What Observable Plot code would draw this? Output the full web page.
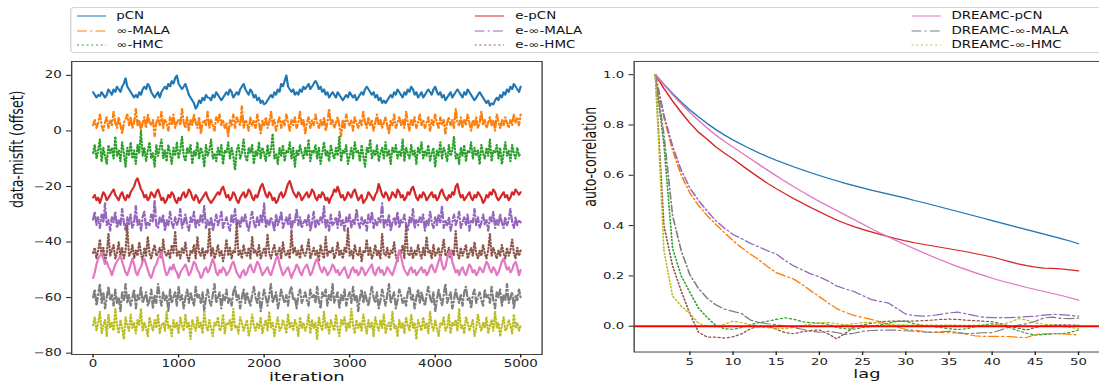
<!DOCTYPE html>
<html>
<head>
<meta charset="utf-8">
<script src="https://cdn.jsdelivr.net/npm/d3@7"></script>
<script src="https://cdn.jsdelivr.net/npm/@observablehq/plot@0.6"></script>
<style>
  html, body { margin: 0; padding: 0; background: #fff; overflow: hidden; width: 1099px; height: 387px; }
  #wrap { position: absolute; left: 0; top: 0; width: 785px; height: 387px; transform: scaleX(1.4); transform-origin: 0 0; font-family: "DejaVu Sans", sans-serif; }
  #legend { position: absolute; left: 50px; top: 7px; width: 760px; height: 46px; border: 1px solid #d4d4d4; border-radius: 3px; box-sizing: border-box; }
  .lg-text { position: absolute; font-size: 9.6px; line-height: 1; color: #111; white-space: nowrap; transform: translateY(-50%); }
  .lg-line { position: absolute; }
  #left { position: absolute; left: 0; top: 55px; }
  #right { position: absolute; left: 400px; top: 55px; }
</style>
</head>
<body>
<div id="wrap">
  <div id="legend"></div>
  <div id="left"></div>
  <div id="right"></div>
</div>
<script>
// ---------------- data ----------------
const seriesNames = ["pCN", "∞-MALA", "∞-HMC", "e-pCN", "e-∞-MALA", "e-∞-HMC", "DREAMC-pCN", "DREAMC-∞-MALA", "DREAMC-∞-HMC"];
const seriesColors = ["#1f77b4", "#ff7f0e", "#2ca02c", "#d62728", "#9467bd", "#8c564b", "#e377c2", "#7f7f7f", "#bcbd22"];
const seriesStyle = ["solid", "dashdot", "dotted", "solid", "dashdot", "dotted", "solid", "dashdot", "dotted"];

const iterMax = 5000;
const iterTicks = [0, 1000, 2000, 3000, 4000, 5000];
const misfitTicks = [-80, -60, -40, -20, 0, 20];
const lags = d3.range(1, 51);
const lagTicks = [5, 10, 15, 20, 25, 30, 35, 40, 45, 50];
const acfTicks = [0, 0.2, 0.4, 0.6, 0.8, 1.0];

// trace values (offset data-misfit), sampled every 20 iterations
const trace_pCN = [14,13,12,13,12.5,14,13,12,13,15,14,13,15,14,16,15,14,16,17,19,16,15,14,13,12,13,12,14,13,15,16,15,17,16,14,13,12,13,14,12,14,15,16,15,17,16,18,17,19,20,17,16,15,16,17,15,13,12,11,10,8,9,11,10,12,11,13,12,12,11,13,12,14,13,12,11,12,13,14,13,15,14,12,13,14,13,15,16,17,15,14,13,15,14,12,13,11,12,10,11,9.5,10,11,12,13,12,14,13,15,14,17,16,18,20,16,15,14,15,13,14,13,15,14,16,15,16,17,15,16,17,18,17,15,16,14,15,13,14,12,13,14,13,12,14,13,12,11,12,13,12,14,13,12,13,11,12,13,14,13,15,16,15,14,13,14,12,13,11,12,10,11,10,11,12,13,12,14,13,15,14,13,12,14,13,15,14,16,15,13,14,12,13,14,12,13,14,15,14,13,15,16,14,13,14,12,13,11,12,13,14,12,13,14,15,14,13,12,14,13,15,14,13,12,11,12,13,14,13,12,11,10,11,9,10,9.5,11,12,11,13,12,14,13,15,14,16,15,17,16,15,14,16];
const trace_infMALA = [2,4,1,3,6,2,0,3,5,1,4,2,7,3,1,5,2,-1,3,4,6,2,5,1,3,8,2,4,0,3,5,1,6,3,2,4,-2,3,5,2,7,1,4,3,0,5,2,6,1,3,4,2,8,3,1,5,0,4,2,6,3,1,5,-1,3,4,2,7,1,4,2,0,5,3,6,2,4,1,3,-2,4,2,6,1,5,3,2,9,1,4,3,0,5,2,4,1,6,3,-1,4,2,5,1,3,7,2,4,0,3,5,1,4,2,6,3,0,4,2,5,1,3,7,2,4,-1,3,5,1,4,2,6,3,1,4,2,5,0,3,8,2,4,1,3,5,2,-2,4,1,6,3,2,4,0,5,3,1,4,2,7,3,1,5,2,4,0,3,6,2,4,1,3,5,2,-1,4,2,6,1,3,5,2,4,1,7,3,0,4,2,5,1,3,6,2,4,1,3,5,0,4,2,6,3,1,5,2,4,-1,3,5,2,4,1,8,3,2,5,1,4,2,6,3,0,4,2,5,1,3,7,2,4,1,3,5,2,4,0,6,3,1,4,2,5,3,1,4,2,6,3,5,2,6];
const trace_infHMC = [-8,-5,-10,-7,-3,-11,-6,-9,-12,-5,-8,-6,-10,-2,-9,-7,-11,-4,-8,-13,-6,-9,-4,-10,-7,-12,-5,-8,0,-9,-6,-11,-7,-4,-10,-8,-13,-5,-9,-6,-3,-10,-7,-11,-5,-8,-12,-6,-9,-4,-10,-7,-2,-9,-11,-6,-8,-5,-12,-7,-9,-4,-10,-6,-8,-13,-5,-9,-7,-3,-10,-8,-11,-6,-9,-5,-12,-7,-8,-4,-10,-6,-9,-14,-7,-5,-10,-8,-3,-9,-11,-6,-8,-5,-12,-7,-9,-4,-10,-6,-8,-11,-5,-9,-7,-1,-10,-8,-12,-6,-9,-5,-11,-7,-8,-4,-10,-6,-13,-7,-9,-5,-8,-10,-6,-9,-3,-11,-7,-8,-5,-10,-6,-12,-8,-4,-9,-7,-11,-5,-8,-10,-6,-9,-2,-11,-7,-8,-5,-12,-9,-6,-10,-4,-8,-7,-11,-5,-9,-13,-6,-8,-3,-10,-7,-9,-5,-11,-8,-6,-10,-4,-9,-7,-12,-6,-8,-5,-10,-7,-9,-3,-11,-6,-8,-10,-5,-9,-7,-12,-6,-8,-4,-10,-7,-9,-5,-11,-8,-6,-13,-7,-9,-4,-10,-6,-8,-11,-5,-9,-7,-2,-10,-8,-12,-6,-9,-5,-11,-7,-8,-4,-10,-6,-9,-7,-12,-5,-8,-10,-6,-9,-3,-11,-7,-8,-5,-10,-6,-12,-8,-4,-9,-7,-11,-5,-8,-10,-6,-9,-8];
const trace_epCN = [-24,-23,-25,-24,-26,-24,-22,-23,-25,-24,-23,-22,-21,-23,-24,-25,-23,-22,-24,-25,-23,-24,-22,-21,-20,-18,-17,-19,-21,-22,-24,-23,-25,-24,-22,-23,-24,-22,-21,-23,-25,-24,-26,-25,-23,-24,-22,-23,-25,-26,-24,-25,-23,-22,-24,-23,-21,-22,-24,-25,-23,-24,-26,-25,-24,-23,-22,-24,-25,-26,-25,-24,-23,-22,-23,-21,-20,-22,-24,-23,-25,-24,-22,-23,-25,-26,-24,-23,-22,-24,-23,-21,-22,-24,-25,-23,-24,-22,-20,-19,-21,-23,-24,-22,-23,-25,-24,-26,-25,-23,-22,-24,-23,-21,-19,-18,-20,-22,-23,-24,-22,-23,-25,-24,-23,-22,-24,-23,-21,-22,-24,-25,-23,-24,-22,-23,-25,-24,-26,-24,-23,-21,-22,-20,-22,-24,-23,-25,-24,-22,-23,-24,-22,-21,-23,-25,-24,-23,-26,-25,-24,-22,-23,-24,-25,-23,-22,-19,-21,-23,-24,-22,-23,-25,-24,-22,-23,-24,-21,-22,-24,-23,-25,-24,-22,-23,-21,-20,-22,-24,-25,-23,-24,-22,-23,-25,-24,-23,-22,-24,-23,-25,-24,-22,-21,-23,-24,-25,-23,-24,-22,-23,-20,-19,-22,-24,-23,-25,-24,-23,-22,-24,-25,-23,-24,-22,-23,-24,-26,-25,-23,-24,-22,-23,-21,-22,-24,-25,-24,-23,-22,-24,-23,-25,-24,-22,-23,-21,-22,-23,-22];
const trace_einfMALA = [-32,-29,-34,-31,-35,-30,-33,-26,-34,-32,-36,-31,-33,-29,-35,-32,-34,-28,-33,-36,-31,-34,-30,-35,-33,-27,-34,-32,-36,-31,-29,-35,-33,-34,-30,-33,-25,-34,-35,-31,-33,-30,-36,-32,-34,-29,-33,-35,-31,-34,-32,-28,-35,-33,-30,-34,-36,-31,-33,-29,-35,-32,-34,-30,-33,-27,-35,-32,-34,-31,-36,-33,-30,-34,-32,-29,-35,-33,-31,-34,-36,-30,-33,-28,-34,-32,-35,-31,-33,-30,-34,-36,-32,-29,-33,-35,-31,-34,-30,-33,-26,-35,-32,-34,-31,-33,-36,-30,-34,-32,-29,-35,-33,-31,-34,-30,-36,-32,-33,-28,-34,-31,-35,-33,-32,-34,-30,-36,-33,-29,-35,-32,-34,-31,-33,-27,-35,-32,-36,-30,-34,-33,-31,-35,-29,-34,-32,-36,-31,-33,-30,-35,-32,-34,-28,-33,-35,-31,-34,-32,-36,-30,-33,-29,-35,-32,-34,-31,-33,-26,-35,-32,-34,-30,-36,-33,-31,-34,-29,-35,-32,-33,-30,-34,-36,-31,-33,-28,-35,-32,-34,-31,-33,-30,-36,-32,-34,-29,-33,-35,-31,-34,-30,-33,-27,-35,-32,-34,-31,-36,-33,-30,-34,-32,-29,-35,-33,-31,-34,-30,-36,-32,-33,-28,-34,-31,-35,-33,-30,-34,-32,-36,-31,-33,-29,-35,-32,-34,-30,-33,-35,-31,-34,-32,-28,-33,-35,-31,-34,-32,-33];
const trace_einfHMC = [-44,-42,-46,-43,-39,-45,-42,-47,-44,-37,-45,-43,-41,-46,-44,-40,-45,-42,-46,-43,-34,-45,-44,-41,-46,-43,-45,-40,-44,-47,-42,-45,-38,-44,-46,-43,-41,-45,-44,-42,-46,-39,-44,-45,-43,-46,-41,-44,-36,-45,-43,-46,-42,-44,-40,-45,-47,-43,-44,-41,-46,-38,-44,-45,-42,-46,-43,-44,-35,-45,-42,-46,-44,-41,-45,-43,-47,-44,-39,-45,-42,-46,-43,-44,-33,-45,-43,-46,-41,-44,-45,-42,-46,-38,-44,-43,-45,-41,-46,-44,-42,-45,-37,-44,-46,-43,-41,-45,-44,-42,-46,-40,-44,-45,-43,-46,-36,-44,-42,-45,-43,-46,-41,-44,-45,-43,-39,-46,-44,-42,-45,-43,-47,-41,-44,-46,-38,-45,-43,-44,-42,-46,-44,-40,-45,-43,-46,-42,-44,-35,-45,-43,-46,-41,-44,-45,-42,-47,-43,-44,-39,-45,-42,-46,-44,-41,-45,-43,-46,-37,-44,-45,-42,-46,-43,-44,-40,-45,-47,-43,-44,-41,-46,-34,-44,-45,-42,-46,-43,-45,-41,-44,-46,-42,-45,-38,-44,-43,-46,-41,-45,-44,-42,-46,-43,-39,-45,-44,-42,-46,-43,-45,-36,-44,-46,-42,-45,-43,-41,-46,-44,-42,-45,-40,-44,-46,-43,-45,-41,-44,-46,-43,-37,-45,-42,-44,-46,-43,-45,-41,-44,-46,-42,-45,-43,-39,-44,-46,-42,-45,-43];
const trace_DpCN = [-53,-51,-48,-46,-45,-44,-46,-48,-47,-49,-50,-52,-50,-48,-47,-46,-45,-47,-49,-51,-52,-50,-48,-46,-48,-51,-52,-50,-49,-47,-46,-48,-50,-52,-53,-51,-49,-48,-46,-45,-44,-47,-50,-52,-51,-49,-50,-48,-50,-51,-53,-51,-50,-49,-48,-50,-52,-51,-49,-47,-48,-50,-51,-53,-52,-50,-49,-51,-50,-48,-46,-48,-51,-52,-50,-51,-49,-50,-52,-51,-50,-48,-47,-49,-51,-52,-53,-51,-50,-52,-51,-49,-48,-50,-51,-49,-47,-48,-50,-52,-51,-50,-49,-51,-52,-50,-48,-46,-45,-48,-50,-52,-51,-50,-49,-51,-53,-51,-50,-48,-49,-51,-52,-50,-49,-48,-50,-52,-51,-49,-47,-46,-48,-50,-51,-49,-50,-52,-51,-50,-48,-49,-51,-50,-52,-51,-50,-49,-51,-53,-52,-50,-49,-51,-50,-52,-51,-49,-50,-52,-51,-50,-49,-48,-51,-52,-50,-49,-51,-50,-52,-51,-49,-50,-51,-52,-50,-48,-46,-43,-45,-48,-50,-51,-52,-50,-49,-51,-50,-52,-51,-50,-49,-51,-50,-52,-51,-49,-48,-50,-51,-49,-47,-45,-48,-50,-49,-46,-44,-43,-47,-49,-51,-50,-52,-50,-49,-51,-52,-50,-48,-49,-51,-50,-52,-51,-49,-50,-51,-49,-47,-48,-50,-51,-49,-50,-52,-51,-49,-47,-46,-48,-50,-49,-51,-50,-48,-47,-49,-52,-50];
const trace_DinfMALA = [-60,-57,-63,-59,-55,-62,-58,-64,-60,-56,-61,-59,-63,-57,-62,-60,-65,-58,-61,-55,-62,-59,-63,-60,-57,-64,-59,-61,-56,-62,-60,-58,-63,-61,-57,-64,-59,-62,-55,-60,-63,-58,-61,-59,-65,-57,-62,-60,-58,-63,-56,-61,-59,-64,-60,-57,-62,-58,-61,-63,-56,-60,-59,-62,-58,-65,-60,-57,-61,-63,-59,-55,-62,-60,-58,-64,-59,-61,-57,-62,-60,-63,-58,-56,-61,-59,-64,-60,-57,-62,-58,-61,-63,-59,-56,-60,-62,-58,-65,-61,-57,-60,-63,-59,-55,-62,-60,-58,-64,-61,-57,-60,-62,-59,-63,-58,-56,-61,-60,-64,-59,-57,-62,-60,-58,-61,-63,-57,-60,-59,-62,-56,-61,-64,-58,-60,-57,-63,-59,-61,-55,-62,-60,-58,-64,-59,-61,-57,-63,-60,-58,-62,-56,-61,-59,-65,-60,-57,-62,-58,-61,-63,-59,-56,-60,-62,-58,-64,-61,-57,-60,-63,-59,-55,-62,-60,-58,-64,-61,-57,-59,-62,-60,-63,-58,-56,-61,-59,-64,-60,-57,-62,-58,-61,-63,-59,-56,-60,-62,-58,-65,-61,-57,-60,-63,-59,-55,-62,-60,-58,-64,-61,-57,-60,-62,-59,-63,-58,-56,-61,-60,-64,-59,-57,-62,-60,-58,-61,-63,-57,-60,-59,-62,-56,-61,-64,-58,-60,-57,-63,-59,-61,-55,-62,-60,-58,-64,-59,-61,-57,-60];
const trace_DinfHMC = [-70,-67,-72,-69,-65,-73,-70,-68,-74,-66,-71,-69,-72,-64,-70,-73,-68,-71,-75,-67,-70,-72,-66,-71,-69,-73,-68,-70,-64,-72,-69,-71,-74,-67,-70,-72,-68,-71,-66,-73,-70,-69,-72,-65,-71,-70,-74,-68,-71,-69,-73,-67,-70,-72,-66,-71,-69,-75,-68,-70,-72,-67,-71,-69,-73,-65,-70,-72,-68,-71,-74,-69,-70,-67,-72,-71,-66,-73,-69,-70,-68,-72,-64,-71,-70,-73,-67,-69,-72,-70,-68,-74,-71,-66,-70,-72,-69,-71,-67,-73,-70,-68,-72,-65,-71,-69,-74,-70,-67,-72,-71,-68,-70,-73,-66,-71,-69,-72,-68,-70,-74,-67,-71,-69,-72,-70,-66,-73,-68,-71,-69,-75,-67,-70,-72,-65,-71,-69,-73,-68,-70,-72,-66,-71,-74,-68,-70,-67,-72,-69,-71,-64,-70,-73,-68,-71,-69,-72,-66,-70,-73,-68,-71,-69,-74,-67,-70,-72,-68,-71,-66,-73,-70,-69,-72,-65,-71,-70,-74,-68,-71,-69,-73,-67,-70,-72,-66,-71,-69,-75,-68,-70,-72,-67,-71,-69,-73,-65,-70,-72,-68,-71,-74,-69,-70,-67,-72,-71,-66,-73,-69,-70,-68,-72,-64,-71,-70,-73,-67,-69,-72,-70,-68,-74,-71,-66,-70,-72,-69,-71,-67,-73,-70,-68,-72,-65,-71,-69,-74,-70,-67,-72,-71,-68,-70,-73,-66,-71,-69,-72,-70];

// autocorrelation values at lags 1..50
const acf_pCN = [1.000,0.962,0.925,0.891,0.860,0.832,0.806,0.782,0.760,0.740,0.722,0.705,0.689,0.674,0.660,0.647,0.634,0.622,0.610,0.599,0.588,0.578,0.568,0.559,0.550,0.541,0.533,0.525,0.517,0.509,0.500,0.492,0.483,0.474,0.465,0.456,0.447,0.438,0.429,0.420,0.411,0.402,0.393,0.384,0.375,0.366,0.357,0.348,0.339,0.328];
const acf_infMALA = [1.000,0.830,0.700,0.600,0.530,0.480,0.440,0.405,0.372,0.340,0.312,0.287,0.264,0.237,0.213,0.200,0.188,0.166,0.141,0.117,0.093,0.070,0.055,0.043,0.035,0.027,0.018,0.008,-0.004,-0.012,-0.016,-0.020,-0.023,-0.025,-0.026,-0.027,-0.032,-0.038,-0.040,-0.040,-0.040,-0.041,-0.044,-0.045,-0.033,-0.030,-0.030,-0.030,-0.032,-0.035];
const acf_infHMC = [1.000,0.720,0.310,0.200,0.135,0.072,0.035,0.003,-0.010,-0.012,-0.005,0.005,0.015,0.020,0.027,0.033,0.028,0.018,0.014,0.012,0.008,-0.005,-0.010,-0.012,-0.005,0.000,0.005,0.012,0.020,0.020,0.010,0.003,0.000,-0.005,-0.010,-0.013,-0.010,-0.002,0.005,0.010,0.005,-0.005,-0.018,-0.028,-0.035,-0.033,-0.030,-0.030,-0.025,-0.015];
const acf_epCN = [1.000,0.945,0.895,0.850,0.808,0.771,0.744,0.713,0.688,0.665,0.640,0.615,0.591,0.568,0.547,0.527,0.508,0.490,0.472,0.455,0.438,0.422,0.408,0.396,0.385,0.375,0.365,0.356,0.347,0.339,0.332,0.326,0.320,0.314,0.308,0.302,0.296,0.289,0.282,0.275,0.266,0.257,0.248,0.241,0.235,0.231,0.230,0.228,0.224,0.220];
const acf_einfMALA = [1.000,0.840,0.715,0.620,0.550,0.500,0.458,0.420,0.390,0.365,0.348,0.330,0.315,0.300,0.287,0.262,0.240,0.224,0.208,0.196,0.180,0.160,0.148,0.138,0.122,0.106,0.099,0.092,0.070,0.048,0.042,0.040,0.042,0.047,0.053,0.056,0.049,0.042,0.036,0.034,0.034,0.034,0.036,0.038,0.040,0.044,0.047,0.046,0.043,0.040];
const acf_einfHMC = [1.000,0.400,0.240,0.140,0.050,-0.024,-0.043,-0.043,-0.047,-0.042,-0.030,-0.010,0.000,0.000,-0.012,-0.025,-0.030,-0.022,-0.017,-0.015,-0.030,-0.050,-0.028,-0.003,0.005,0.012,0.018,0.020,0.020,0.020,0.021,0.022,0.024,0.027,0.028,0.027,0.024,0.022,0.020,0.018,0.010,0.000,-0.008,-0.015,-0.005,0.002,0.005,0.006,0.005,0.005];
const acf_DpCN = [1.000,0.960,0.920,0.884,0.850,0.818,0.788,0.760,0.735,0.712,0.689,0.666,0.643,0.620,0.598,0.576,0.555,0.535,0.515,0.496,0.478,0.460,0.442,0.424,0.406,0.388,0.371,0.355,0.339,0.323,0.308,0.293,0.278,0.264,0.250,0.237,0.225,0.213,0.202,0.191,0.181,0.172,0.163,0.154,0.146,0.138,0.130,0.122,0.113,0.104];
const acf_DinfMALA = [1.000,0.760,0.440,0.300,0.205,0.150,0.112,0.085,0.068,0.059,0.050,0.025,0.015,0.010,0.006,0.000,-0.005,-0.012,-0.020,-0.024,-0.020,-0.025,-0.033,-0.028,-0.020,-0.017,-0.016,-0.015,-0.016,-0.018,-0.020,-0.023,-0.025,-0.022,-0.020,-0.024,-0.030,-0.028,-0.026,-0.025,-0.015,-0.003,0.004,0.010,0.020,0.033,0.036,0.031,0.030,0.032];
const acf_DinfHMC = [1.000,0.300,0.120,0.080,0.050,0.012,0.000,-0.002,0.008,0.020,0.015,0.005,-0.003,-0.006,-0.008,-0.010,-0.005,0.002,0.008,0.014,0.015,0.010,0.005,0.010,0.015,0.015,0.012,0.008,0.006,0.005,0.004,0.005,0.005,0.005,0.005,0.004,0.003,0.004,0.005,0.005,0.008,0.015,0.030,0.025,0.013,0.008,0.005,0.000,-0.005,-0.010];

const traces = [trace_pCN, trace_infMALA, trace_infHMC, trace_epCN, trace_einfMALA, trace_einfHMC, trace_DpCN, trace_DinfMALA, trace_DinfHMC];
const acfs = [acf_pCN, acf_infMALA, acf_infHMC, acf_epCN, acf_einfMALA, acf_einfHMC, acf_DpCN, acf_DinfMALA, acf_DinfHMC];

// ---------------- styles ----------------
const dashes = { solid: undefined, dashdot: "7,2.4,1.4,2.4", dotted: "1.4,2" };
const FONT = "'DejaVu Sans', sans-serif";
const minusFmt = d => d < 0 ? "\u2212" + Math.abs(d) : String(d);

// ---------------- left panel ----------------
const leftPlot = Plot.plot({
  width: 394, height: 332,
  marginLeft: 50.7, marginRight: 7.3, marginTop: 6, marginBottom: 33,
  style: { fontFamily: FONT, fontSize: "9.6px", background: "transparent", overflow: "visible" },
  x: { domain: [-250, 5250] },
  y: { domain: [-80.5, 25] },
  marks: [
    ...traces.map((vals, k) => Plot.line(vals, {
      x: (d, i) => i * iterMax / (vals.length - 1),
      y: d => d,
      stroke: seriesColors[k],
      strokeWidth: 1.6,
      strokeDasharray: dashes[seriesStyle[k]]
    })),
    Plot.frame({ stroke: "#444", strokeWidth: 1 }),
    Plot.axisX({ ticks: iterTicks, tickSize: 3.5, tickPadding: 2.4, tickFormat: minusFmt, label: null, color: "#222", fontSize: 9.6 }),
    Plot.axisY({ ticks: misfitTicks, tickSize: 3.5, tickPadding: 3.6, tickFormat: minusFmt, label: null, color: "#222", fontSize: 9.6 }),
    Plot.text(["iteration"], { text: d => d, frameAnchor: "bottom", dy: 26.5, fontSize: 12.8, fill: "#111" }),
    Plot.text(["data-misfit (offset)"], { text: d => d, frameAnchor: "left", rotate: -90, dx: -38.8, fontSize: 12.6, fill: "#111" })
  ]
});
document.getElementById("left").appendChild(leftPlot);

// ---------------- right panel ----------------
const rightPlot = Plot.plot({
  width: 388.2, height: 332,
  marginLeft: 52.9, marginRight: 0, marginTop: 6, marginBottom: 33,
  style: { fontFamily: FONT, fontSize: "9.6px", background: "transparent", overflow: "visible" },
  x: { domain: [-1.45, 52.45] },
  y: { domain: [-0.1025, 1.0525] },
  marks: [
    ...acfs.map((vals, k) => Plot.line(vals, {
      x: (d, i) => lags[i],
      y: d => d,
      stroke: seriesColors[k],
      strokeWidth: 1.2,
      strokeDasharray: dashes[seriesStyle[k]]
    })),
    Plot.ruleY([0], { stroke: "#ff0000", strokeWidth: 2 }),
    Plot.frame({ stroke: "#444", strokeWidth: 1 }),
    Plot.axisX({ ticks: lagTicks, tickSize: 3.5, tickPadding: 2.4, label: null, color: "#222", fontSize: 9.6 }),
    Plot.axisY({ ticks: acfTicks, tickSize: 3.5, tickPadding: 3.6, tickFormat: d => d.toFixed(1), label: null, color: "#222", fontSize: 9.6 }),
    Plot.text(["lag"], { text: d => d, frameAnchor: "bottom", dy: 26.5, fontSize: 12.8, fill: "#111" }),
    Plot.text(["auto-correlation"], { text: d => d, frameAnchor: "left", rotate: -90, dx: -31.5, fontSize: 12.6, fill: "#111" })
  ]
});
document.getElementById("right").appendChild(rightPlot);

// ---------------- legend (3 columns, column-major) ----------------
const legend = d3.select("#legend");
const colLineX = [3.6, 288, 600];   // relative to legend box (inner units)
const colTextX = [32, 317, 628.6];
const rowY = [8, 22.5, 37];
seriesNames.forEach((name, k) => {
  const col = Math.floor(k / 3), row = k % 3;
  const svg = legend.append("svg").attr("class", "lg-line")
    .attr("width", 21).attr("height", 6)
    .style("left", colLineX[col] + "px").style("top", (rowY[row] - 3) + "px");
  const ln = svg.append("line").attr("x1", 0).attr("x2", 21).attr("y1", 3).attr("y2", 3)
    .attr("stroke", seriesColors[k]).attr("stroke-width", 1.1);
  if (dashes[seriesStyle[k]]) ln.attr("stroke-dasharray", dashes[seriesStyle[k]]);
  legend.append("div").attr("class", "lg-text")
    .style("left", colTextX[col] + "px").style("top", rowY[row] + "px")
    .text(name);
});
</script>
</body>
</html>
